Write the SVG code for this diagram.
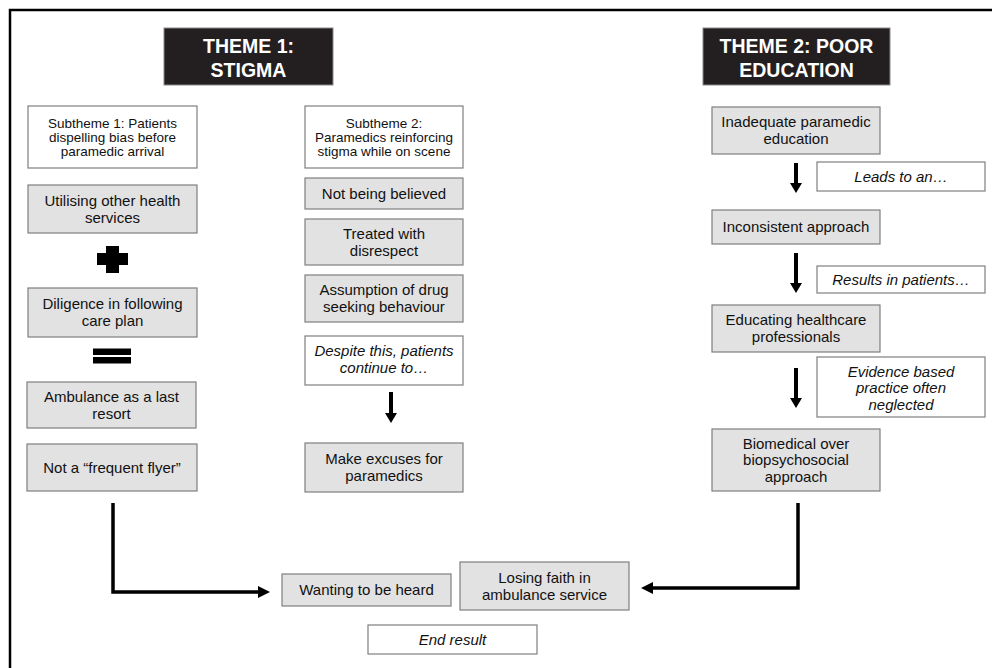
<svg xmlns="http://www.w3.org/2000/svg" width="992" height="668" viewBox="0 0 992 668">
<style>
.g{fill:#e2e2e2;stroke:#7f7f7f;stroke-width:1.2}
.w{fill:#ffffff;stroke:#7f7f7f;stroke-width:1.2}
.th{fill:#231f20;stroke:#8a8a8a;stroke-width:1}
text{font-family:"Liberation Sans",Arial,sans-serif;fill:#111;text-anchor:middle}
.t{font-size:15px}
.s{font-size:13.5px}
.i{font-size:15px;font-style:italic}
.h{font-size:19.5px;font-weight:bold;fill:#fff}
.c{fill:none;stroke:#000;stroke-width:3.5}
.v{fill:none;stroke:#000;stroke-width:4}
</style>
<defs>
<marker id="ah" viewBox="0 0 12 12" refX="0" refY="6" markerWidth="12" markerHeight="12" markerUnits="userSpaceOnUse" orient="auto"><path d="M0,0 L12,6 L0,12 z" fill="#000"/></marker>
<marker id="av" viewBox="0 0 10 12" refX="0" refY="6" markerWidth="10" markerHeight="12" markerUnits="userSpaceOnUse" orient="auto"><path d="M0,0 L10,6 L0,12 z" fill="#000"/></marker>
</defs>
<rect width="992" height="668" fill="#fff"/>
<path d="M10,668 V10 H992" fill="none" stroke="#000" stroke-width="2.5"/>

<g id="theme1"><rect class="th" x="164" y="28" width="169" height="57"/><text class="h" x="248.5" y="53">THEME 1:</text><text class="h" x="248.5" y="77">STIGMA</text></g>
<g id="theme2"><rect class="th" x="703" y="28" width="187" height="57"/><text class="h" x="796.5" y="53">THEME 2: POOR</text><text class="h" x="796.5" y="77">EDUCATION</text></g>

<g id="sub1"><rect class="w" x="28" y="106" width="169" height="62"/><text class="s" x="112.5" y="127.5">Subtheme 1: Patients</text><text class="s" x="112.5" y="141.5">dispelling bias before</text><text class="s" x="112.5" y="155.5">paramedic arrival</text></g>
<g id="utilising"><rect class="g" x="28" y="185" width="169" height="48"/><text class="t" x="112.5" y="206">Utilising other health</text><text class="t" x="112.5" y="222.8">services</text></g>
<g id="plus"><rect x="106" y="246" width="13" height="27" fill="#000"/><rect x="97" y="253" width="31" height="12" fill="#000"/></g>
<g id="diligence"><rect class="g" x="28" y="288" width="169" height="49"/><text class="t" x="112.5" y="309.3">Diligence in following</text><text class="t" x="112.5" y="326">care plan</text></g>
<g id="equals"><rect x="93" y="348.5" width="38" height="6.5" fill="#000"/><rect x="93" y="357" width="38" height="6.5" fill="#000"/></g>
<g id="ambulance"><rect class="g" x="27" y="382" width="169" height="46"/><text class="t" x="111.5" y="401.8">Ambulance as a last</text><text class="t" x="111.5" y="418.5">resort</text></g>
<g id="flyer"><rect class="g" x="27" y="444" width="170" height="47"/><text class="t" x="112" y="472.8">Not a “frequent flyer”</text></g>

<g id="sub2"><rect class="w" x="305" y="106" width="158" height="62"/><text class="s" x="384" y="127.5">Subtheme 2:</text><text class="s" x="384" y="141.5">Paramedics reinforcing</text><text class="s" x="384" y="155.5">stigma while on scene</text></g>
<g id="believed"><rect class="g" x="305" y="178" width="158" height="31"/><text class="t" x="384" y="198.8">Not being believed</text></g>
<g id="disrespect"><rect class="g" x="305" y="219" width="158" height="46"/><text class="t" x="384" y="238.8">Treated with</text><text class="t" x="384" y="255.5">disrespect</text></g>
<g id="drug"><rect class="g" x="305" y="275" width="158" height="47"/><text class="t" x="384" y="295.3">Assumption of drug</text><text class="t" x="384" y="312">seeking behaviour</text></g>
<g id="despite"><rect class="w" x="305" y="336" width="158" height="49"/><text class="i" x="384" y="356">Despite this, patients</text><text class="i" x="384" y="372.7">continue to…</text></g>
<g id="excuses"><rect class="g" x="305" y="443" width="158" height="49"/><text class="t" x="384" y="464.3">Make excuses for</text><text class="t" x="384" y="481">paramedics</text></g>

<g id="inadequate"><rect class="g" x="712" y="107" width="168" height="47"/><text class="t" x="796" y="127.3">Inadequate paramedic</text><text class="t" x="796" y="144">education</text></g>
<g id="leads"><rect class="w" x="817" y="162" width="168" height="29"/><text class="i" x="901" y="181.8">Leads to an…</text></g>
<g id="inconsistent"><rect class="g" x="712" y="210" width="168" height="34"/><text class="t" x="796" y="232.3">Inconsistent approach</text></g>
<g id="results"><rect class="w" x="817" y="266" width="168" height="27"/><text class="i" x="901" y="284.8">Results in patients…</text></g>
<g id="educating"><rect class="g" x="712" y="305" width="168" height="47"/><text class="t" x="796" y="325.3">Educating healthcare</text><text class="t" x="796" y="342">professionals</text></g>
<g id="evidence"><rect class="w" x="817" y="357" width="168" height="60"/><text class="i" x="901" y="376.5">Evidence based</text><text class="i" x="901" y="393">practice often</text><text class="i" x="901" y="409.5">neglected</text></g>
<g id="biomedical"><rect class="g" x="712" y="429" width="168" height="62"/><text class="t" x="796" y="448.6">Biomedical over</text><text class="t" x="796" y="465.3">biopsychosocial</text><text class="t" x="796" y="482">approach</text></g>

<g id="wanting"><rect class="g" x="282" y="574" width="169" height="32"/><text class="t" x="366.5" y="595.3">Wanting to be heard</text></g>
<g id="losing"><rect class="g" x="460" y="562" width="169" height="48"/><text class="t" x="544.5" y="582.8">Losing faith in</text><text class="t" x="544.5" y="599.5">ambulance service</text></g>
<g id="endresult"><rect class="w" x="368" y="625" width="169" height="29"/><text class="i" x="452.5" y="644.8">End result</text></g>

<g id="connectors">
<path class="v" d="M391,392 V413" marker-end="url(#av)"/>
<path class="v" d="M796,163 V183" marker-end="url(#av)"/>
<path class="v" d="M796,253 V283" marker-end="url(#av)"/>
<path class="v" d="M796,368 V398" marker-end="url(#av)"/>
<path class="c" d="M113,503 V592 H258" marker-end="url(#ah)"/>
<path class="c" d="M798,503 V588 H653" marker-end="url(#ah)"/>
</g>
</svg>
